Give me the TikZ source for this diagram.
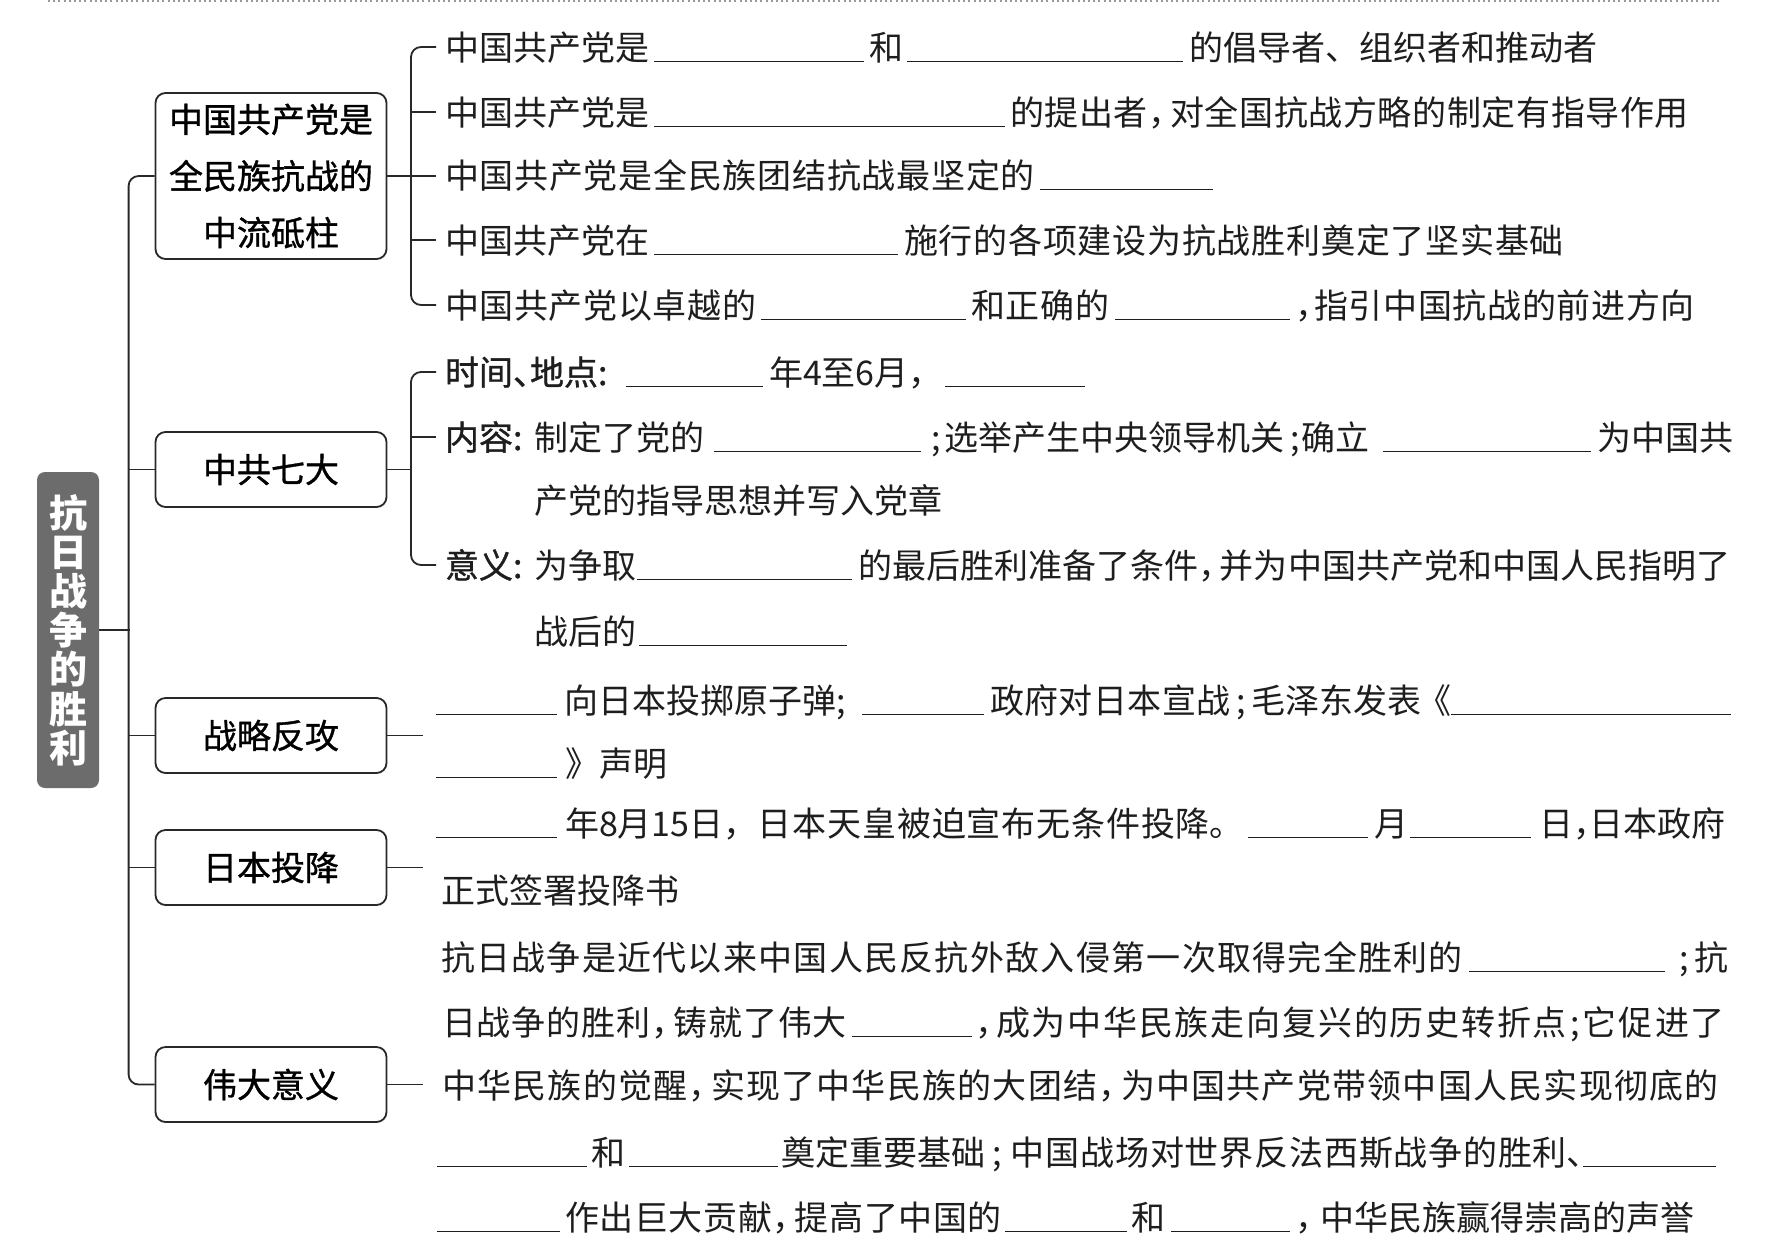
\documentclass[tikz,border=0pt]{standalone}
\usepackage{fontspec}
\setmainfont{Noto Sans CJK SC}
\newfontfamily\medfont[FakeBold=1]{Noto Sans CJK SC}
\newdimen\pxu \pxu=0.5pt
\newcommand\xsg[2]{\makebox[#1\pxu][l]{#2}}
\newcommand\xbl[1]{\rule[-2.2\pxu]{#1\pxu}{1.4\pxu}}
\newcommand\xkn[1]{\kern#1\pxu}
\newcommand\xsm[1]{\makebox[#1\pxu][c]{;}}
\newcommand\xcm{\makebox[21\pxu][l]{，}}
\ExplSyntaxOn
\NewDocumentCommand\xjt{mm}{\hbox~to~#1\pxu{\tl_map_inline:nn{#2}{##1\hfil}\unskip}}
\ExplSyntaxOff
\definecolor{rootgray}{RGB}{108,108,108}
\definecolor{linec}{RGB}{40,40,40}
\definecolor{textc}{RGB}{30,30,30}
\begin{document}
\begin{tikzpicture}[x=0.5pt,y=-0.5pt,
  txt/.style={anchor=base west,inner sep=0pt,outer sep=0pt,text=textc,font=\fontsize{17pt}{20pt}\selectfont},
  bbox/.style={draw=linec,line width=0.9pt,rounded corners=5pt,minimum width=115.5pt,minimum height=37.5pt,inner sep=0pt,align=center,font=\medfont\fontsize{17pt}{28.3pt}\selectfont},
  rootbox/.style={fill=rootgray,rounded corners=4pt,minimum width=31pt,minimum height=158pt,inner sep=0pt,text=white,align=center,font=\bfseries\fontsize{19pt}{19.6pt}\selectfont},
  conn/.style={draw=linec,line width=0.9pt},
  dotline/.style={draw=gray!80,line width=0.8pt,dash pattern=on 1pt off 1.6pt}]
\fill[white] (0,0) rectangle (1783,1249);
\useasboundingbox (0,0) rectangle (1783,1249);
\draw[dotline] (48,1.2) -- (1722,1.2);

% root and branch boxes
\node[rootbox] (root) at (68,630) {抗\\日\\战\\争\\的\\胜\\利};
\node[bbox,minimum height=83pt] (b1) at (271,176) {中国共产党是\\全民族抗战的\\中流砥柱};
\node[bbox] (b2) at (271,469.5) {中共七大};
\node[bbox] (b3) at (271,735.5) {战略反攻};
\node[bbox] (b4) at (271,867.5) {日本投降};
\node[bbox] (b5) at (271,1084.5) {伟大意义};

% trunk connectors
\draw[conn,rounded corners=5pt] (b1.west) -- ++(-26,0) |- (b5.west);
\draw[conn] (b2.west) -- ++(-26,0);
\draw[conn] (b3.west) -- ++(-26,0);
\draw[conn] (b4.west) -- ++(-26,0);
\draw[conn] (root.east) -- ++(31,0);

% bracket of box 1
\coordinate (k1a) at (436,47);
\coordinate (k1b) at (436,112);
\coordinate (k1c) at (436,176);
\coordinate (k1d) at (436,240);
\coordinate (k1e) at (436,305);
\draw[conn] (b1.east) -- (k1c);
\draw[conn,rounded corners=5pt] (k1a) -- (411,47) -- (411,305) -- (k1e);
\draw[conn] (411,112) -- (k1b);
\draw[conn] (411,240) -- (k1d);

% bracket of box 2
\coordinate (k2a) at (436,372);
\coordinate (k2b) at (436,437);
\coordinate (k2c) at (436,565);
\draw[conn] (b2.east) -- ++(25,0);
\draw[conn,rounded corners=5pt] (k2a) -- (411,372) -- (411,565) -- (k2c);
\draw[conn] (411,437) -- (k2b);

% stubs of boxes 3-5
\draw[conn] (b3.east) -- ++(36,0);
\draw[conn] (b4.east) -- ++(36,0);
\draw[conn] (b5.east) -- ++(36,0);

% box 1 texts
\node[txt] (l1) at (445,60) {\xsg{209}{中国共产党是}\xbl{210}\xkn{5}\xsg{38}{和}\xbl{276}\xkn{6}的倡导者、组织者和推动者};
\node[txt] (l2) at (445,125) {\xsg{209}{中国共产党是}\xbl{351}\xkn{5}\xjt{679}{的提出者{\xcm}对全国抗战方略的制定有指导作用}};
\node[txt] (l3) at (445,188) {\xjt{590}{中国共产党是全民族团结抗战最坚定的}\xkn{5}\xbl{173}};
\node[txt] (l4) at (445,253) {\xsg{209}{中国共产党在}\xbl{244}\xkn{6}\xjt{660}{施行的各项建设为抗战胜利奠定了坚实基础}};
\node[txt] (l5) at (445,318) {\xjt{311}{中国共产党以卓越的}\xkn{5}\xbl{205}\xkn{5}\xjt{139}{和正确的}\xkn{5}\xbl{175}\xkn{5}\xsg{19}{，}\xjt{381}{指引中国抗战的前进方向}};

% box 2 texts
\node[txt] (m1) at (445,385) {\xsg{181}{\medfont 时间\makebox[17\pxu][l]{、}地点:}\xbl{137}\xkn{6}\xsg{176}{年4至6月，}\xbl{140}};
\node[txt] (m2) at (445,450) {\xsg{89}{\medfont 内容:}\xsg{180}{制定了党的}\xbl{207}\xkn{6}\xsm{18}\xjt{340}{选举产生中央领导机关}\xkn{3}\xsm{14}\xsg{81}{确立}\xbl{208}\xkn{6}为中国共};
\node[txt] (m3) at (534,513) {产党的指导思想并写入党章};
\node[txt] (m4) at (445,578) {\xsg{89}{\medfont 意义:}\xsg{103}{为争取}\xbl{215}\xkn{6}\xjt{873}{的最后胜利准备了条件{\xcm}并为中国共产党和中国人民指明了}};
\node[txt] (m5) at (534,644) {\xsg{105}{战后的}\xbl{208}};

% box 3 texts
\node[txt] (n1) at (436,713) {\xbl{121}\xkn{7}\xsg{298}{向日本投掷原子弹;}\xbl{122}\xkn{6}\xjt{241}{政府对日本宣战}\xsm{21}\xjt{170}{毛泽东发表}\makebox[29\pxu][r]{《}\xbl{280}};
\node[txt] (n2) at (436,776) {\xbl{121}\xkn{8}》声明};

% box 4 texts
\node[txt] (p1) at (436,836) {\xbl{121}\xkn{8}\xsg{193}{年8月15日，}\xjt{452}{日本天皇被迫宣布无条件投降}\xsg{38}{。}\xbl{120}\xkn{6}\xsg{36}{月}\xbl{121}\xkn{8}\xsg{34}{日}\xsg{16}{，}日本政府};
\node[txt] (p2) at (441,903) {正式签署投降书};

% box 5 texts
\node[txt] (q1) at (441,970) {\xjt{1022}{抗日战争是近代以来中国人民反抗外敌入侵第一次取得完全胜利的}\xkn{6}\xbl{196}\xkn{8}\xsm{22}抗};
\node[txt] (q2) at (442,1035) {\xjt{405}{日战争的胜利{\xcm}铸就了伟大}\xkn{5}\xbl{120}\xkn{3}\xsg{21}{，}\xjt{571}{成为中华民族走向复兴的历史转折点}\xsm{16}\xjt{142}{它促进了}};
\node[txt] (q3) at (442,1098) {\xjt{1277}{中华民族的觉醒{\xcm}实现了中华民族的大团结{\xcm}为中国共产党带领中国人民实现彻底的}};
\node[txt] (q4) at (437,1165) {\xbl{150}\xkn{4}\xsg{38}{和}\xbl{149}\xkn{3}\xjt{203}{奠定重要基础}\xsm{27}\xjt{556}{中国战场对世界反法西斯战争的胜利}\xsg{16}{、}\xbl{133}};
\node[txt] (q5) at (437,1230) {\xbl{123}\xkn{5}\xjt{437}{作出巨大贡献{\xcm}提高了中国的}\xkn{3}\xbl{122}\xkn{4}\xsg{40}{和}\xbl{119}\xkn{5}\xsg{25}{，}\xjt{375}{中华民族赢得崇高的声誉}};
\end{tikzpicture}
\end{document}
